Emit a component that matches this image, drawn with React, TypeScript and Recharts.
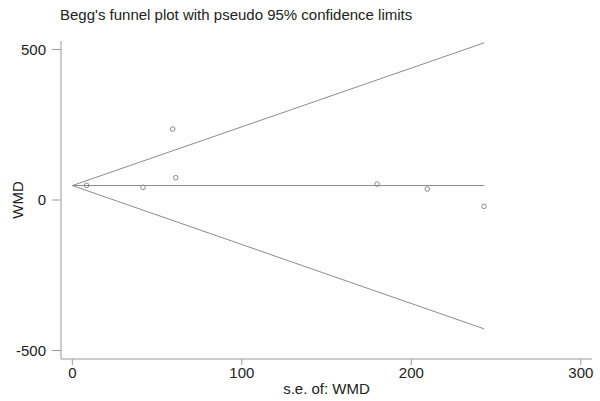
import { ScatterChart, Scatter, XAxis, YAxis } from 'recharts';

// study points: standard error vs WMD
const studySe = [8.4, 41.7, 59.2, 61, 179.8, 209.4, 242.9];
const studyWmd = [48.8, 42, 235.6, 74, 53, 36.5, -21];

// pseudo 95% confidence limits and pooled estimate (end points)
const limitSe = [0, 243];
const upperLimit = [48, 522];
const lowerLimit = [48, -428];
const pooled = [48, 48];

const xTicks = [0, 100, 200, 300];
const yTicks = [-500, 0, 500];

const points = studySe.map((se, i) => ({ se, wmd: studyWmd[i] }));
const upper = limitSe.map((se, i) => ({ se, wmd: upperLimit[i] }));
const lower = limitSe.map((se, i) => ({ se, wmd: lowerLimit[i] }));
const center = limitSe.map((se, i) => ({ se, wmd: pooled[i] }));

const axisColor = '#9a9a9a';
const lineColor = '#8c8c8c';
const textStyle = { fill: '#222', fontSize: 15, fontFamily: 'Liberation Sans, Arial, sans-serif' };

const noDot = () => <g />;
const hollowDot = (props: any) => (
    <circle cx={props.cx} cy={props.cy} r={2.3} fill="none" stroke="#8a8a8a" strokeWidth={1} />
);

export default function App() {
    return (
        <div style={{ position: 'absolute', left: 0, top: 0, width: 600, height: 401, background: '#fff' }}>
            <div
                style={{
                    position: 'absolute',
                    left: 60,
                    top: 6,
                    fontSize: 15,
                    lineHeight: '17px',
                    fontFamily: 'Liberation Sans, Arial, sans-serif',
                    color: '#222',
                    whiteSpace: 'nowrap',
                }}
            >
                Begg's funnel plot with pseudo 95% confidence limits
            </div>
            <ScatterChart width={600} height={401} margin={{ top: 41, right: 8, bottom: 0, left: 0 }}>
                <XAxis
                    type="number"
                    dataKey="se"
                    domain={[-6.7, 306.6]}
                    ticks={xTicks}
                    stroke={axisColor}
                    tickSize={6}
                    tickMargin={2}
                    tick={textStyle}
                    height={42}
                    allowDataOverflow
                    label={{ value: 's.e. of: WMD', position: 'insideBottom', offset: 7, style: textStyle }}
                />
                <YAxis
                    type="number"
                    dataKey="wmd"
                    domain={[-528, 528]}
                    ticks={yTicks}
                    stroke={axisColor}
                    tickSize={9}
                    tickMargin={6}
                    tick={textStyle}
                    width={61}
                    allowDataOverflow
                    label={{ value: 'WMD', angle: -90, position: 'insideLeft', offset: 18, style: { ...textStyle, textAnchor: 'middle' } }}
                />
                <Scatter data={upper} line={{ stroke: lineColor, strokeWidth: 1 }} shape={noDot} isAnimationActive={false} />
                <Scatter data={lower} line={{ stroke: lineColor, strokeWidth: 1 }} shape={noDot} isAnimationActive={false} />
                <Scatter data={center} line={{ stroke: lineColor, strokeWidth: 1 }} shape={noDot} isAnimationActive={false} />
                <Scatter data={points} shape={hollowDot} isAnimationActive={false} />
            </ScatterChart>
        </div>
    );
}
